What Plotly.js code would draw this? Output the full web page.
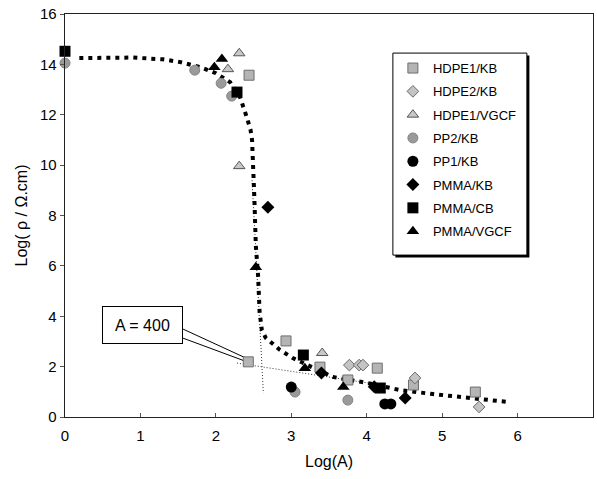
<!DOCTYPE html>
<html>
<head>
<meta charset="utf-8">
<script src="https://cdn.plot.ly/plotly-3.0.1.min.js"></script>
<style>html,body{margin:0;padding:0;background:#fff;}#chart{width:597px;height:479px;}</style>
</head>
<body>
<div id="chart"></div>
<script>
// ---- data ----
const seriesNames = ["HDPE1/KB", "HDPE2/KB", "HDPE1/VGCF", "PP2/KB", "PP1/KB", "PMMA/KB", "PMMA/CB", "PMMA/VGCF"];

const hdpe1kbX = [2.44, 2.43, 2.93, 3.38, 3.75, 4.14, 4.62, 5.44];
const hdpe1kbY = [13.57, 2.19, 3.02, 1.98, 1.47, 1.94, 1.27, 0.99];

const hdpe2kbX = [3.77, 3.90, 3.95, 4.64, 5.49];
const hdpe2kbY = [2.06, 2.06, 2.06, 1.55, 0.40];

const hdpe1vgcfX = [2.16, 2.31, 2.31, 3.41];
const hdpe1vgcfY = [13.81, 14.44, 9.96, 2.54];

const pp2kbX = [0.0, 1.72, 2.07, 2.21, 3.05, 3.75];
const pp2kbY = [14.05, 13.77, 13.25, 12.74, 0.99, 0.67];

const pp1kbX = [3.0, 4.24, 4.32];
const pp1kbY = [1.19, 0.52, 0.52];

const pmmakbX = [2.69, 3.40, 4.10, 4.51];
const pmmakbY = [8.33, 1.75, 1.20, 0.75];

const pmmacbX = [0.0, 2.28, 3.16, 4.18];
const pmmacbY = [14.52, 12.90, 2.46, 1.15];

const pmmavgcfX = [1.98, 2.08, 2.53, 3.18, 3.69];
const pmmavgcfY = [13.89, 14.21, 5.95, 1.94, 1.19];

// fitted (thick dotted) curve
const fitX = [0.19, 0.9, 1.3, 1.53, 1.79, 2.0, 2.19, 2.32, 2.41, 2.46, 2.48, 2.49, 2.51, 2.53, 2.56, 2.58, 2.61, 2.66, 2.72, 2.85, 3.02, 3.29, 3.55, 4.01, 4.44, 4.88, 5.33, 5.86];
const fitY = [14.25, 14.27, 14.2, 14.09, 13.89, 13.65, 13.29, 12.7, 11.9, 11.4, 10.99, 9.68, 8.73, 6.8, 5.6, 4.15, 3.45, 3.15, 2.98, 2.66, 2.34, 1.98, 1.59, 1.35, 1.07, 0.91, 0.75, 0.6];

// thin dotted tangent lines
const tanVX = [2.48, 2.63];
const tanVY = [9.4, 0.95];
const tanHX = [2.28, 4.2];
const tanHY = [2.14, 1.27];

// callout "A = 400"
const calloutText = "A = 400";
const calloutBox = [1.03, 3.67];           // centre of label box (data units)
const calloutLine1 = [[1.565, 3.49], [2.5, 2.2]];
const calloutLine2 = [[1.565, 3.13], [2.45, 2.15]];

const xTicks = [0, 1, 2, 3, 4, 5, 6, 7];
const yTicks = [0, 2, 4, 6, 8, 10, 12, 14, 16];

// ---- styles ----
const styles = [
  {symbol: "square", size: 10, color: "#b4b4b4", line: {color: "#6e6e6e", width: 1}},
  {symbol: "diamond", size: 9, color: "#c4c4c4", line: {color: "#6a6a6a", width: 1}},
  {symbol: "triangle-up", size: 10, color: "#c8c8c8", line: {color: "#555", width: 1}},
  {symbol: "circle", size: 10, color: "#9a9a9a", line: {color: "#858585", width: 1}},
  {symbol: "circle", size: 11, color: "#000", line: {color: "#000", width: 0}},
  {symbol: "diamond", size: 10, color: "#000", line: {color: "#000", width: 0}},
  {symbol: "square", size: 11, color: "#000", line: {color: "#000", width: 0}},
  {symbol: "triangle-up", size: 11, color: "#000", line: {color: "#000", width: 0}}
];
const xs = [hdpe1kbX, hdpe2kbX, hdpe1vgcfX, pp2kbX, pp1kbX, pmmakbX, pmmacbX, pmmavgcfX];
const ys = [hdpe1kbY, hdpe2kbY, hdpe1vgcfY, pp2kbY, pp1kbY, pmmakbY, pmmacbY, pmmavgcfY];

const traces = [];
traces.push({x: tanVX, y: tanVY, mode: "lines", line: {color: "#333", width: 1, dash: "1px,2px"}, showlegend: false, hoverinfo: "skip", cliponaxis: false});
traces.push({x: tanHX, y: tanHY, mode: "lines", line: {color: "#333", width: 1, dash: "1px,2px"}, showlegend: false, hoverinfo: "skip", cliponaxis: false});
traces.push({x: calloutLine1.map(p => p[0]), y: calloutLine1.map(p => p[1]), mode: "lines", line: {color: "#000", width: 1}, showlegend: false, hoverinfo: "skip"});
traces.push({x: calloutLine2.map(p => p[0]), y: calloutLine2.map(p => p[1]), mode: "lines", line: {color: "#000", width: 1}, showlegend: false, hoverinfo: "skip"});
traces.push({x: fitX, y: fitY, mode: "lines", line: {color: "#000", width: 4, dash: "4px,5px"}, showlegend: false, hoverinfo: "skip"});

seriesNames.forEach((n, i) => {
  traces.push({
    x: xs[i], y: ys[i], name: n, mode: "markers", type: "scatter",
    legendgroup: "g" + i,
    marker: {symbol: styles[i].symbol, size: styles[i].size, color: styles[i].color, line: styles[i].line},
    cliponaxis: false
  });
});

// legend frame (paper units) with its drop shadow
const legX = 0.621, legTop = 0.903;
const pxW = 528, pxH = 403;
const boxW = 134, boxH = 202, shadow = 2.5;

const font = "Arial, 'Liberation Sans', sans-serif";
const layout = {
  width: 597, height: 479,
  margin: {l: 65, r: 4, t: 14, b: 62},
  paper_bgcolor: "#fff", plot_bgcolor: "#fff",
  font: {family: font, color: "#000", size: 15},
  showlegend: true,
  legend: {
    x: legX, y: legTop, xanchor: "left", yanchor: "top",
    bgcolor: "rgba(0,0,0,0)", borderwidth: 0,
    font: {family: font, size: 13, color: "#000"},
    tracegroupgap: 3.4, traceorder: "grouped"
  },
  xaxis: {
    range: [0, 7], tickvals: xTicks, ticktext: xTicks.map(String),
    ticks: "inside", ticklen: 4, tickcolor: "#555",
    showgrid: false, zeroline: false,
    showline: true, linecolor: "#222", linewidth: 1.3, mirror: true,
    tickfont: {size: 15}, ticklabelstandoff: 5,
    title: {text: "Log(A)", font: {size: 16}, standoff: 12}
  },
  yaxis: {
    range: [0, 16], tickvals: yTicks, ticktext: yTicks.map(String),
    ticks: "outside", ticklen: 4, tickcolor: "#555",
    showgrid: false, zeroline: false,
    showline: true, linecolor: "#222", linewidth: 1.3, mirror: true,
    tickfont: {size: 15},
    title: {text: "Log( ρ / Ω.cm)", font: {size: 16}, standoff: 8}
  },
  shapes: [{
    type: "rect", xref: "paper", yref: "paper", layer: "above",
    x0: legX + shadow / pxW, x1: legX + (boxW + shadow) / pxW,
    y0: legTop - (boxH + shadow) / pxH, y1: legTop - shadow / pxH,
    fillcolor: "#000", line: {width: 0}
  }, {
    type: "rect", xref: "paper", yref: "paper", layer: "above",
    x0: legX, x1: legX + boxW / pxW,
    y0: legTop - boxH / pxH, y1: legTop,
    fillcolor: "#fff", line: {color: "#000", width: 1}
  }],
  annotations: [{
    x: calloutBox[0], y: calloutBox[1], xref: "x", yref: "y",
    text: calloutText, showarrow: false,
    font: {family: font, size: 16, color: "#000"},
    bgcolor: "#fff", bordercolor: "#000", borderwidth: 1, borderpad: 1,
    width: 77, height: 34
  }]
};

Plotly.newPlot("chart", traces, layout, {staticPlot: true});
</script>
</body>
</html>
